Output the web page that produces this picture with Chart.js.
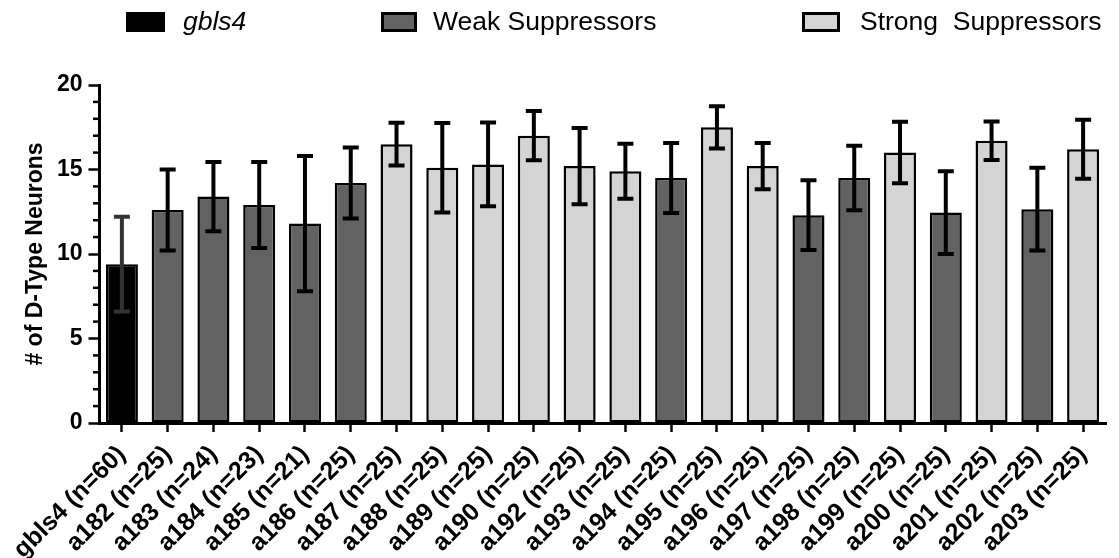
<!DOCTYPE html>
<html>
<head>
<meta charset="utf-8">
<script src="https://cdn.jsdelivr.net/npm/chart.js@4"></script>
<style>
  body { margin: 0; background: #fff; font-family: "Liberation Sans", Arial, sans-serif; }
  #wrap { position: relative; width: 1119px; height: 558px; }
  .key { position: absolute; top: 12px; height: 20px; box-sizing: border-box; }
  .lbl { position: absolute; top: 6px; font-size: 26.5px; line-height: 30px; color: #000; }
</style>
</head>
<body>
<div id="wrap">
  <canvas id="myChart"></canvas>
  <div class="key" style="left:126px;width:39px;background:#000;"></div>
  <div class="lbl" style="left:183px;font-style:italic;">gbls4</div>
  <div class="key" style="left:381px;width:36px;background:#626262;border:3px solid #000;"></div>
  <div class="lbl" style="left:433px;">Weak Suppressors</div>
  <div class="key" style="left:802px;width:38px;background:#d4d4d4;border:3px solid #000;"></div>
  <div class="lbl" style="left:860px;">Strong&nbsp; Suppressors</div>
</div>
<script>
const strains = ["gbls4 (n=60)", "a182 (n=25)", "a183 (n=24)", "a184 (n=23)", "a185 (n=21)", "a186 (n=25)",
    "a187 (n=25)", "a188 (n=25)", "a189 (n=25)", "a190 (n=25)", "a192 (n=25)", "a193 (n=25)", "a194 (n=25)",
    "a195 (n=25)", "a196 (n=25)", "a197 (n=25)", "a198 (n=25)", "a199 (n=25)", "a200 (n=25)", "a201 (n=25)",
    "a202 (n=25)", "a203 (n=25)"];

// mean number of D-type neurons per strain
const means = [9.4, 12.6, 13.4, 12.9, 11.8, 14.2, 16.5, 15.1, 15.3, 17.0, 15.2, 14.9, 14.5,
    17.5, 15.2, 12.3, 14.5, 16.0, 12.45, 16.7, 12.65, 16.2];
// error bar half-length (SD)
const errors = [2.8, 2.4, 2.05, 2.55, 4.0, 2.1, 1.27, 2.65, 2.48, 1.46, 2.26, 1.63, 2.07,
    1.25, 1.37, 2.07, 1.91, 1.82, 2.45, 1.14, 2.45, 1.75];
// control / weak / strong
const groups = ["ctrl", "weak", "weak", "weak", "weak", "weak", "strong", "strong", "strong", "strong", "strong",
    "strong", "weak", "strong", "strong", "weak", "weak", "strong", "weak", "strong", "weak", "strong"];

const yTicks = [0, 5, 10, 15, 20];

const groupColor = { ctrl: "#000000", weak: "#626262", strong: "#d4d4d4" };

// error bars drawn on top of each bar
const errorBars = {
    id: 'errorBars',
    afterDatasetsDraw(chart) {
        const ctx = chart.ctx;
        const y = chart.scales.y;
        const meta = chart.getDatasetMeta(0);
        ctx.save();
        for (let i = 0; i < means.length; i++) {
            const x = meta.data[i].x;
            const top = y.getPixelForValue(means[i] + errors[i]);
            const bot = y.getPixelForValue(means[i] - errors[i]);
            ctx.strokeStyle = i === 0 ? "#333333" : "#000000";
            ctx.lineWidth = 4;
            ctx.beginPath();
            ctx.moveTo(x, top);
            ctx.lineTo(x, bot);
            ctx.moveTo(x - 8, top);
            ctx.lineTo(x + 8, top);
            ctx.moveTo(x - 8, bot);
            ctx.lineTo(x + 8, bot);
            ctx.stroke();
        }
        ctx.restore();
    }
};

// minor ticks on the y axis (every 1)
const minorTicks = {
    id: 'minorTicks',
    afterDraw(chart) {
        const ctx = chart.ctx;
        const y = chart.scales.y;
        const left = chart.chartArea.left;
        ctx.save();
        ctx.strokeStyle = "#000";
        ctx.lineWidth = 2.5;
        for (let v = 1; v < 20; v++) {
            if (v % 5 === 0) continue;
            const py = y.getPixelForValue(v);
            ctx.beginPath();
            ctx.moveTo(left - 6, py);
            ctx.lineTo(left, py);
            ctx.stroke();
        }
        ctx.restore();
    }
};

const data = {
    labels: strains,
    datasets: [{
        label: 'D-Type Neurons',
        data: means,
        backgroundColor: groups.map(g => groupColor[g]),
        borderColor: "#000000",
        borderWidth: 2.5,
        borderSkipped: false,
        categoryPercentage: 1.0,
        barPercentage: 0.7,
    }]
};

const config = {
    type: 'bar',
    data: data,
    options: {
        responsive: true,
        maintainAspectRatio: false,
        animation: false,
        layout: {
            padding: { top: 85, right: 13, left: 0, bottom: 0 }
        },
        plugins: {
            legend: { display: false },
            tooltip: { enabled: false }
        },
        scales: {
            x: {
                afterFit: (scale) => { scale.height = 135; },
                grid: {
                    offset: false,
                    drawOnChartArea: false,
                    tickLength: 9,
                    tickWidth: 2.5,
                    tickColor: "#000",
                },
                border: { color: "#000", width: 3 },
                ticks: {
                    color: "#000",
                    minRotation: 45,
                    maxRotation: 45,
                    padding: 8,
                    autoSkip: false,
                    font: { family: "'Liberation Sans', Arial", size: 25, weight: 'bold' }
                }
            },
            y: {
                min: 0,
                max: 20,
                afterFit: (scale) => { scale.width = 99; },
                afterBuildTicks: (scale) => { scale.ticks = yTicks.map(v => ({ value: v })); },
                grid: {
                    drawOnChartArea: false,
                    tickLength: 10.5,
                    tickWidth: 2.5,
                    tickColor: "#000",
                },
                border: { color: "#000", width: 3 },
                ticks: {
                    color: "#000",
                    padding: 6,
                    font: { family: "'Liberation Sans', Arial", size: 23, weight: 'bold' }
                },
                title: {
                    display: true,
                    text: '# of D-Type Neurons',
                    color: "#000",
                    padding: { top: 22, bottom: 0 },
                    font: { family: "'Liberation Sans', Arial", size: 23, weight: 'bold' }
                }
            }
        }
    },
    plugins: [errorBars, minorTicks]
};

const myChart = new Chart(document.getElementById('myChart'), config);
</script>
</body>
</html>
